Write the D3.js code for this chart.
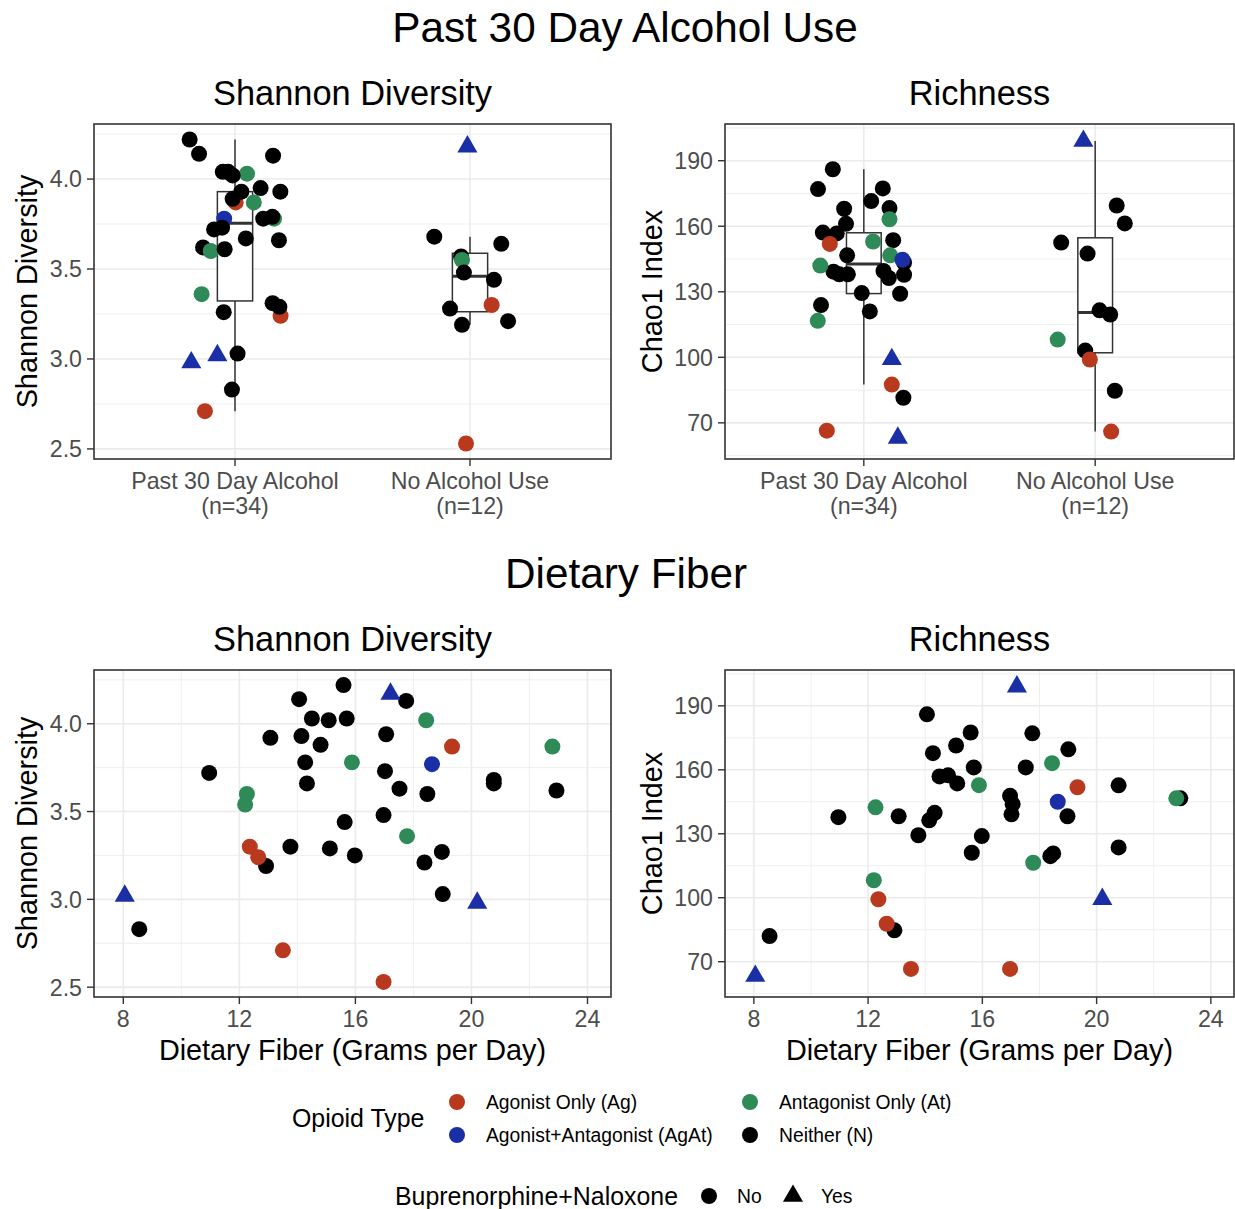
<!DOCTYPE html>
<html>
<head>
<meta charset="utf-8">
<title>Past 30 Day Alcohol Use / Dietary Fiber</title>
<script src="https://d3js.org/d3.v7.min.js"></script>
<style>
  body { margin: 0; background: #fff; }
  svg { display: block; font-family: 'Liberation Sans', Arial, sans-serif; }
</style>
</head>
<body>
<script>
// ---- data ----
const groups = ['Past 30 Day Alcohol', 'No Alcohol Use']
const opioidTypes = ['Ag', 'AgAt', 'At', 'N']
const opioidLabels = ['Agonist Only (Ag)', 'Agonist+Antagonist (AgAt)', 'Antagonist Only (At)', 'Neither (N)']
const opioidColors = ['#b8391d', '#1a2fa6', '#2e8b57', '#000000']
const bupLevels = ['No', 'Yes']
const shannonTicks = [2.5, 3.0, 3.5, 4.0]
const shannonMinor = [2.75, 3.25, 3.75, 4.25]
const chaoTicks = [70, 100, 130, 160, 190]
const chaoMinor = [55, 85, 115, 145, 175, 205]
const fiberTicks = [8, 12, 16, 20, 24]
const fiberMinor = [10, 14, 18, 22]

// alcohol panels: [group index, jitter (category units), value, opioid, bup]
const alcShannon = [
  [0, 0.003, 3.87, 'Ag', 'No'], [0, 0.194, 3.24, 'Ag', 'No'], [0, -0.128, 2.71, 'Ag', 'No'],
  [0, 0.051, 4.03, 'At', 'No'], [0, 0.080, 3.87, 'At', 'No'], [0, 0.166, 3.78, 'At', 'No'],
  [0, -0.142, 3.36, 'At', 'No'], [0, -0.046, 3.78, 'AgAt', 'No'],
  [0, -0.186, 2.98, 'AgAt', 'Yes'], [0, -0.075, 3.02, 'AgAt', 'Yes'],
  [0, -0.136, 3.62, 'N', 'No'], [0, -0.103, 3.60, 'At', 'No'],
  [0, -0.193, 4.22, 'N', 'No'], [0, -0.153, 4.14, 'N', 'No'], [0, 0.162, 4.13, 'N', 'No'],
  [0, -0.052, 4.04, 'N', 'No'], [0, -0.029, 4.04, 'N', 'No'], [0, -0.010, 4.02, 'N', 'No'],
  [0, 0.027, 3.93, 'N', 'No'], [0, 0.109, 3.95, 'N', 'No'], [0, 0.193, 3.93, 'N', 'No'],
  [0, -0.010, 3.89, 'N', 'No'], [0, 0.120, 3.78, 'N', 'No'], [0, 0.159, 3.79, 'N', 'No'],
  [0, -0.089, 3.72, 'N', 'No'], [0, -0.055, 3.73, 'N', 'No'], [0, 0.046, 3.67, 'N', 'No'],
  [0, 0.187, 3.66, 'N', 'No'], [0, -0.044, 3.61, 'N', 'No'], [0, 0.160, 3.31, 'N', 'No'],
  [0, 0.189, 3.29, 'N', 'No'], [0, -0.048, 3.26, 'N', 'No'], [0, 0.011, 3.03, 'N', 'No'],
  [0, -0.013, 2.83, 'N', 'No'],
  [1, -0.038, 3.57, 'N', 'No'], [1, -0.034, 3.55, 'At', 'No'], [1, 0.092, 3.30, 'Ag', 'No'],
  [1, -0.017, 2.53, 'Ag', 'No'], [1, -0.011, 4.18, 'AgAt', 'Yes'],
  [1, -0.152, 3.68, 'N', 'No'], [1, 0.133, 3.64, 'N', 'No'], [1, -0.026, 3.48, 'N', 'No'],
  [1, 0.102, 3.44, 'N', 'No'], [1, -0.085, 3.28, 'N', 'No'], [1, -0.034, 3.19, 'N', 'No'],
  [1, 0.162, 3.21, 'N', 'No']
]

const alcChao = [
  [0, -0.134, 186.1, 'N', 'No'], [0, -0.198, 177.0, 'N', 'No'], [0, 0.082, 177.3, 'N', 'No'],
  [0, 0.032, 171.5, 'N', 'No'], [0, -0.085, 168.0, 'N', 'No'], [0, 0.111, 168.3, 'N', 'No'],
  [0, -0.077, 161.1, 'N', 'No'], [0, -0.177, 157.1, 'N', 'No'], [0, -0.117, 156.7, 'N', 'No'],
  [0, 0.127, 153.6, 'N', 'No'], [0, -0.072, 146.7, 'N', 'No'], [0, 0.174, 143.4, 'N', 'No'],
  [0, -0.131, 139.2, 'N', 'No'], [0, -0.106, 138.0, 'N', 'No'], [0, -0.069, 138.0, 'N', 'No'],
  [0, 0.085, 139.5, 'N', 'No'], [0, 0.108, 136.3, 'N', 'No'], [0, 0.174, 137.8, 'N', 'No'],
  [0, -0.009, 129.4, 'N', 'No'], [0, 0.157, 129.1, 'N', 'No'], [0, -0.185, 123.9, 'N', 'No'],
  [0, 0.026, 121.0, 'N', 'No'], [0, 0.171, 81.5, 'N', 'No'],
  [0, 0.111, 163.2, 'At', 'No'], [0, 0.040, 153.0, 'At', 'No'], [0, 0.114, 146.7, 'At', 'No'],
  [0, -0.188, 142.0, 'At', 'No'], [0, -0.199, 116.7, 'At', 'No'],
  [0, -0.147, 151.9, 'Ag', 'No'], [0, 0.121, 87.5, 'Ag', 'No'], [0, -0.160, 66.4, 'Ag', 'No'],
  [0, 0.167, 144.7, 'AgAt', 'No'], [0, 0.121, 99.1, 'AgAt', 'Yes'], [0, 0.147, 63.1, 'AgAt', 'Yes'],
  [1, 0.093, 169.5, 'N', 'No'], [1, 0.128, 161.3, 'N', 'No'], [1, -0.147, 152.5, 'N', 'No'],
  [1, -0.033, 147.5, 'N', 'No'], [1, 0.019, 121.5, 'N', 'No'], [1, 0.065, 119.6, 'N', 'No'],
  [1, -0.043, 103.1, 'N', 'No'], [1, 0.085, 84.7, 'N', 'No'],
  [1, -0.162, 108.1, 'At', 'No'], [1, -0.023, 99.0, 'Ag', 'No'], [1, 0.069, 66.0, 'Ag', 'No'],
  [1, -0.051, 199.0, 'AgAt', 'Yes']
]

// fiber panels: [fiber g/day, shannon, chao1, opioid, bup]
const fiberSubjects = [
  [15.59, 4.22, 177.5, 'N', 'No'], [14.06, 4.14, 186.0, 'N', 'No'], [14.50, 4.03, 156.9, 'N', 'No'],
  [15.08, 4.02, 171.4, 'N', 'No'], [15.70, 4.03, 161.1, 'N', 'No'], [13.07, 3.92, 138.2, 'N', 'No'],
  [14.14, 3.93, 136.3, 'N', 'No'], [14.80, 3.88, 157.4, 'N', 'No'], [14.27, 3.78, 167.8, 'N', 'No'],
  [10.96, 3.72, 137.8, 'N', 'No'], [14.33, 3.66, 139.8, 'N', 'No'], [15.63, 3.44, 121.1, 'N', 'No'],
  [13.76, 3.30, 129.3, 'N', 'No'], [15.12, 3.29, 153.6, 'N', 'No'], [15.98, 3.25, 128.9, 'N', 'No'],
  [12.92, 3.19, 84.7, 'N', 'No'], [8.55, 2.83, 82.0, 'N', 'No'], [17.75, 4.13, 177.1, 'N', 'No'],
  [17.06, 3.94, 143.9, 'N', 'No'], [17.02, 3.73, 139.1, 'N', 'No'], [20.77, 3.68, 152.7, 'N', 'No'],
  [20.77, 3.66, 123.6, 'N', 'No'], [22.93, 3.62, 146.6, 'N', 'No'], [17.52, 3.63, 161.1, 'N', 'No'],
  [18.48, 3.60, 120.8, 'N', 'No'], [16.97, 3.48, 147.8, 'N', 'No'], [18.98, 3.27, 138.2, 'N', 'No'],
  [18.38, 3.21, 119.5, 'N', 'No'], [19.01, 3.03, 169.6, 'N', 'No'],
  [15.88, 3.78, 152.8, 'At', 'No'], [12.26, 3.60, 142.4, 'At', 'No'], [12.20, 3.54, 108.2, 'At', 'No'],
  [18.44, 4.02, 163.1, 'At', 'No'], [22.79, 3.87, 146.6, 'At', 'No'], [17.78, 3.36, 116.4, 'At', 'No'],
  [12.36, 3.30, 99.3, 'Ag', 'No'], [12.65, 3.24, 87.8, 'Ag', 'No'], [13.50, 2.71, 66.6, 'Ag', 'No'],
  [19.33, 3.87, 151.8, 'Ag', 'No'], [16.97, 2.53, 66.6, 'Ag', 'No'],
  [18.64, 3.77, 145.0, 'AgAt', 'No'], [8.05, 3.02, 63.3, 'AgAt', 'Yes'],
  [17.21, 4.17, 199.0, 'AgAt', 'Yes'], [20.20, 2.98, 99.3, 'AgAt', 'Yes']
]

// ---- scales / setup ----
const W = 1235, H = 1209
const shannonDomain = [2.444, 4.306]
const chaoDomain = [53.45, 206.8]
const fiberDomain = [6.99, 24.81]
const GRID = '#ebebeb', INK = '#333333', TICKTXT = '#4d4d4d'
const FS = { title: 42.3, sub: 34.4, axis: 28.8, tick: 23.2, legTitle: 24.9, legText: 19.3 }

const svg = d3.select('body').append('svg').attr('width', W).attr('height', H)
svg.append('rect').attr('width', W).attr('height', H).attr('fill', '#fff')

const colorOf = d3.scaleOrdinal().domain(opioidTypes).range(opioidColors)
const shapeOf = d3.scaleOrdinal().domain(bupLevels).range([d3.symbolCircle, d3.symbolTriangle])
const sizeOf = d3.scaleOrdinal().domain(bupLevels).range([201, 175])
const sym = b => d3.symbol().type(shapeOf(b)).size(sizeOf(b))()

const cols = [{ left: 94, right: 611 }, { left: 725, right: 1234 }]
const rows = [{ top: 124, bottom: 459 }, { top: 670, bottom: 997 }]

function panelFrame(g, c, r, y, yMajor, yMinor, fmt, xMajor, xMinor) {
  g.selectAll('.ymin').data(yMinor).enter().append('line')
    .attr('x1', c.left).attr('x2', c.right).attr('y1', d => y(d)).attr('y2', d => y(d))
    .attr('stroke', GRID).attr('stroke-width', 0.8)
  g.selectAll('.xmin').data(xMinor).enter().append('line')
    .attr('y1', r.top).attr('y2', r.bottom).attr('x1', d => d).attr('x2', d => d)
    .attr('stroke', GRID).attr('stroke-width', 0.8)
  g.selectAll('.ymaj').data(yMajor).enter().append('line')
    .attr('x1', c.left).attr('x2', c.right).attr('y1', d => y(d)).attr('y2', d => y(d))
    .attr('stroke', GRID).attr('stroke-width', 1.6)
  g.selectAll('.xmaj').data(xMajor).enter().append('line')
    .attr('y1', r.top).attr('y2', r.bottom).attr('x1', d => d).attr('x2', d => d)
    .attr('stroke', GRID).attr('stroke-width', 1.6)
  // y axis ticks + labels
  g.selectAll('.yt').data(yMajor).enter().append('line')
    .attr('x1', c.left - 7).attr('x2', c.left).attr('y1', d => y(d)).attr('y2', d => y(d))
    .attr('stroke', INK).attr('stroke-width', 1.4)
  g.selectAll('.yl').data(yMajor).enter().append('text')
    .attr('x', c.left - 12).attr('y', d => y(d)).attr('dy', '0.36em')
    .attr('text-anchor', 'end').attr('font-size', FS.tick).attr('fill', TICKTXT)
    .text(fmt)
  g.selectAll('.xt').data(xMajor).enter().append('line')
    .attr('y1', r.bottom).attr('y2', r.bottom + 7).attr('x1', d => d).attr('x2', d => d)
    .attr('stroke', INK).attr('stroke-width', 1.4)
}

function border(g, c, r) {
  g.append('rect').attr('x', c.left).attr('y', r.top)
    .attr('width', c.right - c.left).attr('height', r.bottom - r.top)
    .attr('fill', 'none').attr('stroke', INK).attr('stroke-width', 1.6)
}

function points(g, data, px, py) {
  g.selectAll('.pt').data(data).enter().append('path')
    .attr('d', d => sym(d[4]))
    .attr('transform', d => `translate(${px(d)},${py(d)})`)
    .attr('fill', d => colorOf(d[3]))
}

function yTitle(text, x, r) {
  svg.append('text').attr('transform', `translate(${x},${(r.top + r.bottom) / 2}) rotate(-90)`)
    .attr('text-anchor', 'middle').attr('font-size', FS.axis).text(text)
}

function subTitle(text, c, yb) {
  svg.append('text').attr('x', (c.left + c.right) / 2).attr('y', yb)
    .attr('text-anchor', 'middle').attr('font-size', FS.sub).text(text)
}

// ---- alcohol box panels ----
function boxPanel(data, c, r, domain, yMajor, yMinor, fmt, title, ytitle, ytx) {
  const g = svg.append('g')
  const x = d3.scalePoint().domain(groups).range([c.left, c.right]).padding(0.6)
  const step = x.step()
  const y = d3.scaleLinear().domain(domain).range([r.bottom, r.top])
  panelFrame(g, c, r, y, yMajor, yMinor, fmt, groups.map(d => x(d)), [])

  groups.forEach((gname, gi) => {
    const vals = data.filter(d => d[0] === gi).map(d => d[2]).sort(d3.ascending)
    const q1 = d3.quantile(vals, 0.25), med = d3.quantile(vals, 0.5), q3 = d3.quantile(vals, 0.75)
    const iqr = q3 - q1
    const lo = d3.min(vals.filter(v => v >= q1 - 1.5 * iqr))
    const hi = d3.max(vals.filter(v => v <= q3 + 1.5 * iqr))
    const cx = x(gname), hw = 0.075 * step
    g.append('line').attr('x1', cx).attr('x2', cx).attr('y1', y(hi)).attr('y2', y(q3))
      .attr('stroke', INK).attr('stroke-width', 1.5)
    g.append('line').attr('x1', cx).attr('x2', cx).attr('y1', y(q1)).attr('y2', y(lo))
      .attr('stroke', INK).attr('stroke-width', 1.5)
    g.append('rect').attr('x', cx - hw).attr('width', 2 * hw)
      .attr('y', y(q3)).attr('height', y(q1) - y(q3))
      .attr('fill', '#fff').attr('stroke', INK).attr('stroke-width', 1.5)
    g.append('line').attr('x1', cx - hw).attr('x2', cx + hw).attr('y1', y(med)).attr('y2', y(med))
      .attr('stroke', INK).attr('stroke-width', 3)

    const n = vals.length
    g.append('text').attr('x', cx).attr('y', r.bottom + 30).attr('text-anchor', 'middle')
      .attr('font-size', FS.tick).attr('fill', TICKTXT).text(gname)
    g.append('text').attr('x', cx).attr('y', r.bottom + 55).attr('text-anchor', 'middle')
      .attr('font-size', FS.tick).attr('fill', TICKTXT).text(`(n=${n})`)
  })

  points(g, data, d => x(groups[d[0]]) + d[1] * step, d => y(d[2]))
  border(g, c, r)
  subTitle(title, c, r.top - 19)
  yTitle(ytitle, ytx, r)
}

// ---- fiber scatter panels ----
function fiberPanel(vi, c, r, domain, yMajor, yMinor, fmt, title, ytitle, ytx) {
  const g = svg.append('g')
  const x = d3.scaleLinear().domain(fiberDomain).range([c.left, c.right])
  const y = d3.scaleLinear().domain(domain).range([r.bottom, r.top])
  panelFrame(g, c, r, y, yMajor, yMinor, fmt, fiberTicks.map(x), fiberMinor.map(x))
  g.selectAll('.xl').data(fiberTicks).enter().append('text')
    .attr('x', d => x(d)).attr('y', r.bottom + 30).attr('text-anchor', 'middle')
    .attr('font-size', FS.tick).attr('fill', TICKTXT).text(d => d)
  const pts = fiberSubjects.map(d => [d[0], d[vi], null, d[3], d[4]])
  points(g, pts, d => x(d[0]), d => y(d[1]))
  border(g, c, r)
  subTitle(title, c, r.top - 19)
  yTitle(ytitle, ytx, r)
  svg.append('text').attr('x', (c.left + c.right) / 2).attr('y', r.bottom + 63)
    .attr('text-anchor', 'middle').attr('font-size', FS.axis).text('Dietary Fiber (Grams per Day)')
}

svg.append('text').attr('x', 625).attr('y', 42).attr('text-anchor', 'middle')
  .attr('font-size', FS.title).text('Past 30 Day Alcohol Use')
svg.append('text').attr('x', 626).attr('y', 588).attr('text-anchor', 'middle')
  .attr('font-size', FS.title).text('Dietary Fiber')

const f1 = d3.format('.1f'), f0 = d3.format('d')
boxPanel(alcShannon, cols[0], rows[0], shannonDomain, shannonTicks, shannonMinor, f1, 'Shannon Diversity', 'Shannon Diversity', 37)
boxPanel(alcChao, cols[1], rows[0], chaoDomain, chaoTicks, chaoMinor, f0, 'Richness', 'Chao1 Index', 662)
fiberPanel(1, cols[0], rows[1], shannonDomain, shannonTicks, shannonMinor, f1, 'Shannon Diversity', 'Shannon Diversity', 37)
fiberPanel(2, cols[1], rows[1], chaoDomain, chaoTicks, chaoMinor, f0, 'Richness', 'Chao1 Index', 662)

// ---- legends ----
const leg = svg.append('g')
leg.append('text').attr('x', 292).attr('y', 1127).attr('font-size', FS.legTitle).text('Opioid Type')
const keyX = [457, 750], keyY = [1102, 1135]
opioidTypes.forEach((t, i) => {
  const kx = keyX[Math.floor(i / 2)], ky = keyY[i % 2]
  leg.append('path').attr('d', sym('No')).attr('transform', `translate(${kx},${ky})`).attr('fill', colorOf(t))
  leg.append('text').attr('x', kx + 29).attr('y', ky + 7).attr('font-size', FS.legText).text(opioidLabels[i])
})
leg.append('text').attr('x', 395).attr('y', 1205).attr('font-size', FS.legTitle).text('Buprenorphine+Naloxone')
const bupX = [709, 793]
bupLevels.forEach((b, i) => {
  leg.append('path').attr('d', sym(b)).attr('transform', `translate(${bupX[i]},1196)`).attr('fill', '#000')
  leg.append('text').attr('x', bupX[i] + 28).attr('y', 1203).attr('font-size', FS.legText).text(b)
})
</script>
</body>
</html>
